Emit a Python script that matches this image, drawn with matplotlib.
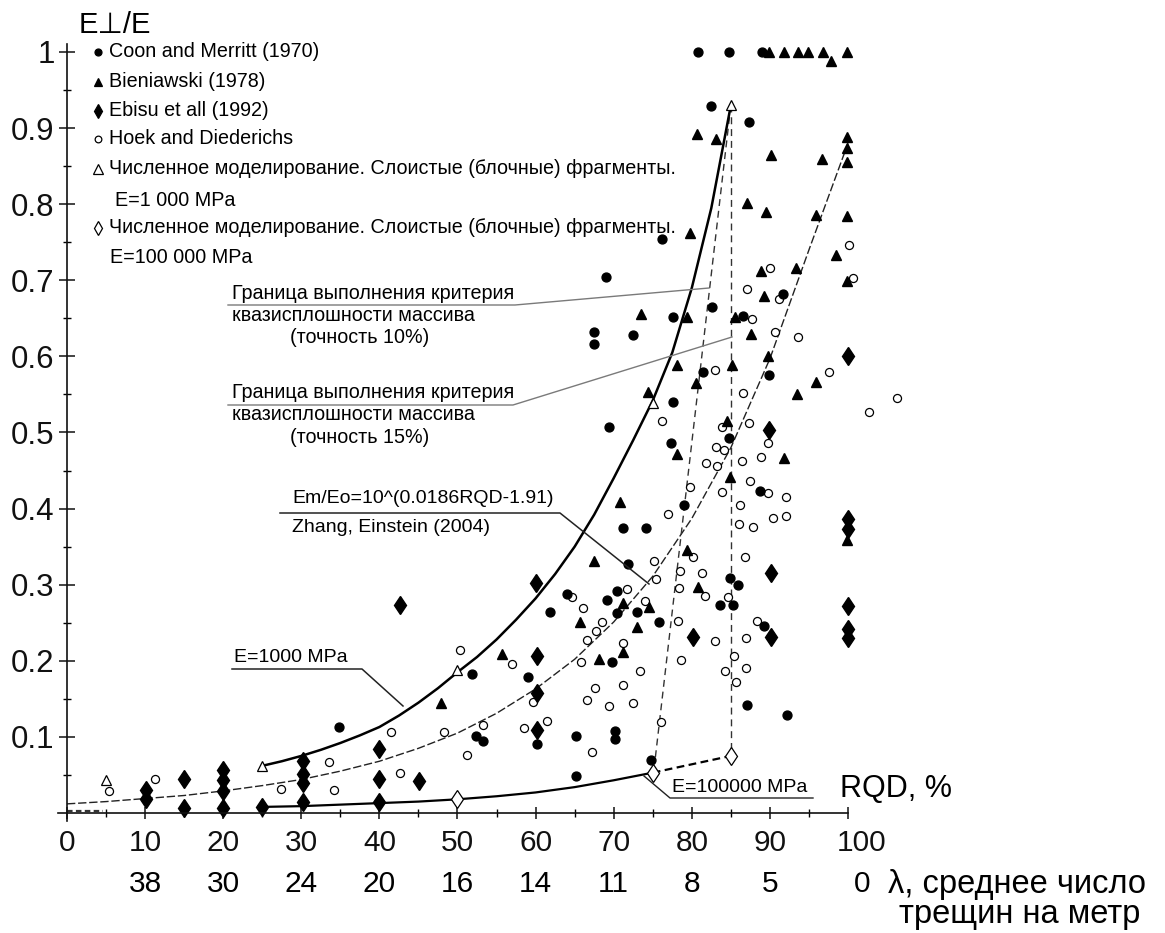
import matplotlib
matplotlib.use("Agg")
import matplotlib.pyplot as plt
from matplotlib.transforms import ScaledTranslation

FONT = ['Liberation Sans', 'DejaVu Sans']
plt.rcParams['font.family'] = FONT

# ---------------- data (RQD %, E_perp/E) ----------------
coon_x = [80.8, 84.8, 89.0, 82.5, 87.3, 76.2, 69.0, 91.7, 82.6, 77.6, 86.6, 67.5, 67.5, 72.5,
          81.4, 89.9, 77.6, 69.4, 84.8, 77.3, 88.7, 79.0, 71.2, 74.1, 71.8, 84.9, 85.9, 83.6,
          85.3, 64.0, 61.8, 69.1, 70.4, 70.4, 73.0, 75.8, 89.2, 51.9, 59.0, 34.8, 52.4, 53.3,
          60.2, 69.8, 65.2, 70.2, 70.2, 74.8, 65.2, 87.1, 92.2]
coon_y = [1.0, 1.0, 1.0, 0.929, 0.908, 0.754, 0.704, 0.682, 0.665, 0.652, 0.653, 0.632, 0.616,
          0.628, 0.580, 0.576, 0.540, 0.507, 0.493, 0.486, 0.423, 0.405, 0.375, 0.375, 0.327,
          0.309, 0.300, 0.273, 0.273, 0.288, 0.264, 0.280, 0.292, 0.263, 0.264, 0.251, 0.246,
          0.183, 0.179, 0.113, 0.101, 0.095, 0.091, 0.198, 0.101, 0.108, 0.097, 0.070, 0.049,
          0.142, 0.129]

bien_x = [89.9, 91.8, 93.6, 94.9, 96.8, 97.8, 99.9, 80.7, 83.1, 99.9, 99.9, 99.9, 90.1, 96.7,
          87.1, 89.5, 95.9, 99.9, 79.8, 98.5, 88.9, 93.3, 99.9, 89.2, 73.5, 79.4, 85.5, 87.6,
          89.8, 78.1, 85.1, 95.9, 80.5, 74.4, 93.5, 84.5, 78.1, 91.8, 84.9, 70.8, 99.9, 79.4,
          67.5, 80.8, 71.2, 74.5, 65.7, 73.0, 55.7, 47.9, 68.1, 71.2]
bien_y = [1.0, 1.0, 1.0, 1.0, 1.0, 0.988, 1.0, 0.892, 0.886, 0.888, 0.874, 0.855, 0.865, 0.859,
          0.802, 0.790, 0.786, 0.785, 0.762, 0.733, 0.712, 0.716, 0.699, 0.679, 0.656, 0.652,
          0.652, 0.629, 0.600, 0.589, 0.589, 0.566, 0.565, 0.553, 0.551, 0.515, 0.472, 0.466,
          0.442, 0.409, 0.359, 0.346, 0.331, 0.297, 0.276, 0.271, 0.251, 0.244, 0.209, 0.144,
          0.203, 0.212]

ebisu_x = [100, 89.9, 100, 100, 90.1, 100, 100, 100, 90.1, 80.2, 60.1, 42.6, 60.2, 60.2, 60.2,
           40.0, 40.0, 40.0, 45.1, 30.2, 30.2, 30.2, 30.2, 25.0, 20, 20, 20, 20, 15, 15, 10.1, 10.1]
ebisu_y = [0.600, 0.503, 0.386, 0.373, 0.315, 0.272, 0.242, 0.230, 0.231, 0.231, 0.302, 0.273,
           0.206, 0.158, 0.109, 0.084, 0.045, 0.015, 0.042, 0.068, 0.051, 0.039, 0.015, 0.008,
           0.056, 0.043, 0.029, 0.006, 0.045, 0.006, 0.030, 0.018]

hoek_x = [100.1, 90.0, 100.6, 87.1, 91.2, 87.7, 90.7, 93.6, 83.0, 97.6, 86.6, 106.3, 102.7, 76.2,
          83.9, 87.3, 89.8, 83.1, 84.1, 88.9, 81.8, 83.2, 86.4, 87.5, 89.8, 92.1, 79.8, 83.9,
          86.2, 77.0, 90.4, 92.1, 86.0, 87.8, 80.2, 78.5, 81.3, 75.2, 75.4, 78.4, 81.7, 84.6,
          86.8, 78.2, 83.0, 87.0, 64.7, 66.1, 71.7, 74.0, 68.5, 67.7, 66.6, 71.2, 50.3, 88.3,
          57.0, 59.7, 41.5, 48.3, 53.3, 58.5, 61.5, 51.2, 42.6, 33.5, 34.2, 27.4, 11.3, 5.4,
          65.8, 67.6, 71.2, 66.6, 69.4, 72.5, 73.4, 78.6, 67.2, 76.1, 85.4, 84.3, 86.9, 85.7]
hoek_y = [0.746, 0.716, 0.703, 0.689, 0.675, 0.649, 0.632, 0.626, 0.582, 0.580, 0.552, 0.545,
          0.527, 0.515, 0.507, 0.512, 0.486, 0.481, 0.477, 0.468, 0.460, 0.456, 0.463, 0.436,
          0.420, 0.415, 0.428, 0.422, 0.405, 0.393, 0.388, 0.390, 0.380, 0.376, 0.336, 0.318,
          0.315, 0.331, 0.307, 0.296, 0.285, 0.284, 0.336, 0.252, 0.226, 0.230, 0.284, 0.270,
          0.294, 0.279, 0.251, 0.239, 0.227, 0.223, 0.214, 0.252, 0.196, 0.146, 0.106, 0.106,
          0.116, 0.112, 0.121, 0.076, 0.053, 0.067, 0.030, 0.031, 0.045, 0.029, 0.199, 0.164,
          0.168, 0.148, 0.141, 0.145, 0.187, 0.201, 0.080, 0.120, 0.206, 0.187, 0.190, 0.172]

num1000_x = [5, 25, 50, 75, 85]
num1000_y = [0.043, 0.062, 0.188, 0.539, 0.930]
num100k_x = [50, 75, 85]
num100k_y = [0.018, 0.053, 0.075]

e1000_x = [25, 27.5, 30, 32.5, 35, 37.5, 40, 42.5, 45, 47.5, 50, 52.5, 55, 57.5, 60, 62.5,
           65, 67.5, 70, 72.5, 75, 77.5, 80, 82.5, 85]
e1000_y = [0.062, 0.068, 0.075, 0.083, 0.092, 0.102, 0.113, 0.128, 0.145, 0.164, 0.185, 0.205,
           0.228, 0.254, 0.282, 0.314, 0.350, 0.392, 0.440, 0.490, 0.542, 0.605, 0.690, 0.795, 0.930]

e100k_x = [25, 30, 35, 40, 45, 50, 55, 60, 65, 70, 75]
e100k_y = [0.008, 0.009, 0.011, 0.013, 0.015, 0.018, 0.022, 0.027, 0.034, 0.043, 0.053]
e100k_dash_x = [75, 85]
e100k_dash_y = [0.053, 0.075]

zhang_x = [0, 5, 10, 15, 20, 25, 30, 35, 40, 45, 50, 55, 60, 65, 70, 75, 80, 85, 90, 95, 100]
zhang_y = [0.012, 0.015, 0.019, 0.023, 0.029, 0.036, 0.044, 0.055, 0.068, 0.085, 0.105, 0.131,
           0.163, 0.202, 0.251, 0.311, 0.387, 0.480, 0.597, 0.740, 0.880]

bound10_x = [85, 75.3]
bound10_y = [0.93, 0.07]
bound15_x = [85, 85]
bound15_y = [0.93, 0.075]

rqd_ticks = [0, 10, 20, 30, 40, 50, 60, 70, 80, 90, 100]
lambda_labels = ['', '38', '30', '24', '20', '16', '14', '11', '8', '5', '0']
y_ticks = [0.1, 0.2, 0.3, 0.4, 0.5, 0.6, 0.7, 0.8, 0.9, 1.0]
y_labels = ['0.1', '0.2', '0.3', '0.4', '0.5', '0.6', '0.7', '0.8', '0.9', '1']

# ---------------- figure ----------------
W, H, DPI = 1165, 933, 100
fig = plt.figure(figsize=(W / DPI, H / DPI), dpi=DPI)
ax = fig.add_axes([0, 0, 1, 1])
X0, SX = 67.0, 7.81      # pixel of RQD=0, px per RQD unit
Y0, SY = 813.0, 761.0    # pixel of E=0, px per unit E
ax.set_xlim(-X0 / SX, (W - X0) / SX)
ax.set_ylim((Y0 - H) / SY, Y0 / SY)


def X(px):
    return (px - X0) / SX


def Y(py):
    return (Y0 - py) / SY


for s in ['top', 'right']:
    ax.spines[s].set_visible(False)
ax.spines['left'].set_position(('data', 0))
ax.spines['bottom'].set_position(('data', 0))
ax.spines['left'].set_bounds(Y(821), Y(44))
ax.spines['bottom'].set_bounds(X(58), 100)
for s in ['left', 'bottom']:
    ax.spines[s].set_linewidth(1.2)
    ax.spines[s].set_color('#111111')

ax.set_xticks(rqd_ticks)
ax.set_xticklabels([str(t) for t in rqd_ticks])
ax.set_xticks([5, 15, 25, 35, 45, 55, 65, 75, 85, 95], minor=True)
ax.set_yticks(y_ticks)
ax.set_yticklabels(y_labels)
ax.set_yticks([0.05, 0.15, 0.25, 0.35, 0.45, 0.55, 0.65, 0.75, 0.85, 0.95], minor=True)
ax.tick_params(axis='x', which='major', direction='inout', length=9, width=1.1,
               labelsize=21.5, pad=7, colors='#111111')
ax.tick_params(axis='x', which='minor', direction='inout', length=6, width=1.0)
ax.tick_params(axis='y', which='major', direction='inout', length=12, width=1.1,
               labelsize=22.5, pad=3, colors='#111111')
ax.tick_params(axis='y', which='minor', direction='inout', length=6, width=1.0)

# shift the "100" label slightly right as in the reference
lbl100 = ax.get_xticklabels()[-1]
lbl100.set_transform(lbl100.get_transform() + ScaledTranslation(14 / DPI, 0, fig.dpi_scale_trans))

# second row of labels: lambda
for t, lab in zip(rqd_ticks, lambda_labels):
    xx = t + (14 / SX if t == 100 else 0)
    ax.text(xx, Y(884), lab, fontsize=21.5, ha='center', va='center')
ax.text(X(888), Y(884), 'λ, среднее число', fontsize=23.5, ha='left', va='center')
ax.text(X(899), Y(915), 'трещин на метр', fontsize=23.5, ha='left', va='center')
ax.text(X(840), Y(789), 'RQD, %', fontsize=22, ha='left', va='center')
ax.text(X(79), Y(25), 'E⊥/E', fontsize=21, ha='left', va='center', family=FONT)

# ---------------- curves ----------------
ax.plot(zhang_x, zhang_y, color='#222222', lw=1.0, dashes=(6, 2))
ax.plot(bound10_x, bound10_y, color='#333333', lw=1.0, dashes=(5, 3.5))
ax.plot(bound15_x, bound15_y, color='#333333', lw=1.0, dashes=(5, 3.5))
ax.plot(e1000_x, e1000_y, color='black', lw=1.8)
ax.plot(e100k_x, e100k_y, color='black', lw=1.6)
ax.plot(e100k_dash_x, e100k_dash_y, color='black', lw=1.6, dashes=(3.5, 2))
ax.plot([0, 4.6], [0.003, 0.003], color='#333333', lw=1.6, dashes=(2.5, 1.5))

# ---------------- scatter ----------------
ax.plot(hoek_x, hoek_y, 'o', ms=5.8, mfc='white', mec='black', mew=0.9, ls='none')
ax.plot(coon_x, coon_y, 'o', ms=6.4, mfc='black', mec='black', ls='none')
ax.plot(bien_x, bien_y, '^', ms=7.5, mfc='black', mec='black', ls='none')
ax.plot(ebisu_x, ebisu_y, 'd', ms=9.5, mfc='black', mec='black', ls='none')
ax.plot(num1000_x, num1000_y, '^', ms=7.5, mfc='white', mec='black', mew=0.9, ls='none')
ax.plot(num100k_x, num100k_y, 'd', ms=9.5, mfc='white', mec='black', mew=0.9, ls='none')

# ---------------- legend (manual) ----------------
LFS = 14.2
leg = [
    (52, 'o', 'black', 5.0, 'Coon and Merritt (1970)'),
    (82, '^', 'black', 6.0, 'Bieniawski (1978)'),
    (111, 'd', 'black', 7.5, 'Ebisu et all (1992)'),
    (139, 'o', 'white', 4.8, 'Hoek and Diederichs'),
    (169, '^', 'white', 6.5, 'Численное моделирование. Слоистые (блочные) фрагменты.'),
    (228, 'd', 'white', 7.5, 'Численное моделирование. Слоистые (блочные) фрагменты.'),
]
for py, mk, fc, ms, txt in leg:
    ax.plot([X(98)], [Y(py)], mk, ms=ms, mfc=fc, mec='black', mew=0.9)
    ax.text(X(109), Y(py), txt, fontsize=LFS, ha='left', va='center')
ax.text(X(115), Y(200), 'E=1 000 MPa', fontsize=LFS, ha='left', va='center')
ax.text(X(110), Y(258), 'E=100 000 MPa', fontsize=LFS, ha='left', va='center')

# ---------------- annotations ----------------
gray = '#7a7a7a'
# 10% boundary
ax.text(X(232), Y(294), 'Граница выполнения критерия', fontsize=LFS, ha='left', va='center')
ax.text(X(232), Y(316), 'квазисплошности массива', fontsize=LFS, ha='left', va='center')
ax.text(X(290), Y(338), '(точность 10%)', fontsize=LFS, ha='left', va='center')
ax.plot([X(228), X(515), X(709)], [Y(305), Y(305), Y(288)], color=gray, lw=1.0)
# 15% boundary
ax.text(X(232), Y(393), 'Граница выполнения критерия', fontsize=LFS, ha='left', va='center')
ax.text(X(232), Y(415), 'квазисплошности массива', fontsize=LFS, ha='left', va='center')
ax.text(X(290), Y(438), '(точность 15%)', fontsize=LFS, ha='left', va='center')
ax.plot([X(228), X(513), X(732)], [Y(405), Y(405), Y(337)], color=gray, lw=1.0)
# Zhang & Einstein
ax.text(X(292), Y(499), 'Em/Eo=10^(0.0186RQD-1.91)', fontsize=14, ha='left', va='center')
ax.text(X(292), Y(528), 'Zhang, Einstein (2004)', fontsize=14, ha='left', va='center')
ax.plot([X(280), X(560), X(649)], [Y(513), Y(513), Y(584)], color='#222222', lw=1.1)
# E=1000 MPa
ax.text(X(234), Y(658), 'E=1000 MPa', fontsize=14, ha='left', va='center')
ax.plot([X(232), X(362), X(403)], [Y(669), Y(669), Y(706)], color='#222222', lw=1.1)
# E=100000 MPa
ax.text(X(672), Y(788), 'E=100000 MPa', fontsize=14, ha='left', va='center')
ax.plot([X(813), X(670), X(644)], [Y(798), Y(798), Y(776)], color='#222222', lw=1.0)

fig.savefig('out.png', dpi=DPI)
